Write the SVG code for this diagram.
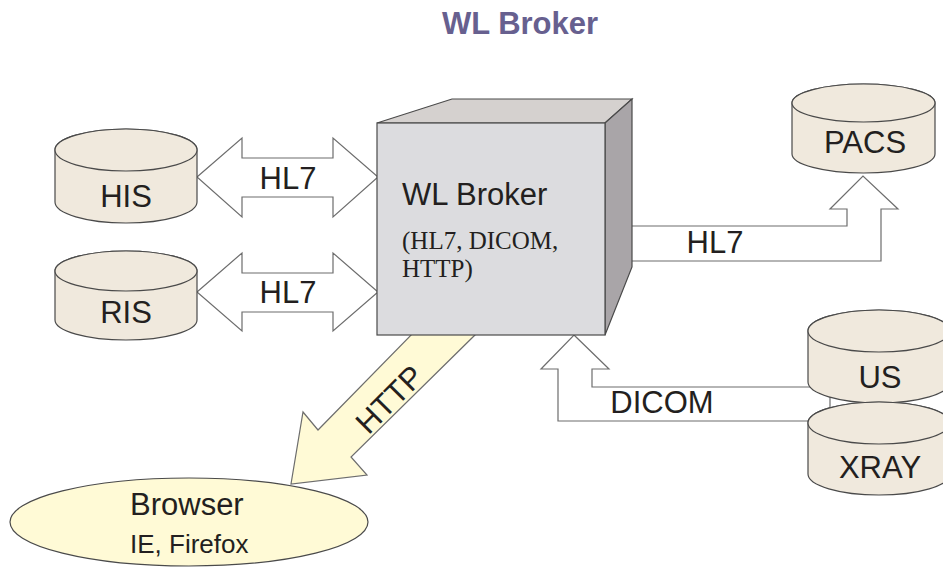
<svg xmlns="http://www.w3.org/2000/svg" width="943" height="567" viewBox="0 0 943 567">
<style>
.t{font-family:"Liberation Sans",Arial,sans-serif;fill:#231f20;font-size:31px}
.s{font-family:"Liberation Serif","Times New Roman",serif;fill:#231f20;font-size:25px}
.cyl{fill:#f0e9dd;stroke:#4a4a4a;stroke-width:1.2}
.arr{fill:#ffffff;stroke:#6d6d6d;stroke-width:1.2}
</style>
<rect width="943" height="567" fill="#ffffff"/>
<text x="520" y="34" text-anchor="middle" font-family="Liberation Sans,Arial,sans-serif" font-weight="bold" font-size="31" fill="#67608f">WL Broker</text>

<g id="connectors">
  <polygon class="arr" points="197,177 242,138 242,158 333,158 333,138 378,177 333,217 333,197 242,197 242,217"/>
  <text class="t" x="288" y="189" text-anchor="middle">HL7</text>
  <polygon class="arr" points="197,292 242,253 242,273 333,273 333,253 378,292 333,331 333,312 242,312 242,331"/>
  <text class="t" x="288" y="303" text-anchor="middle">HL7</text>
  <polygon class="arr" points="620,226 847,226 847,209 830,209 863,176 898,209 881,209 881,261 620,261"/>
  <text class="t" x="715" y="253" text-anchor="middle">HL7</text>
  <polygon class="arr" points="574,335 609,369 592,369 592,387 830,387 830,421 558,421 558,369 541,369"/>
  <text class="t" x="662" y="413" text-anchor="middle">DICOM</text>
  <polygon points="413,333 477,333 351,457 367,475 291,484 303,412 318,430" fill="#fffad6" stroke="#6d6d6d" stroke-width="1.2"/>
  <text class="t" x="0" y="0" text-anchor="middle" transform="translate(397,407) rotate(-45)">HTTP</text>
</g>

<g id="broker">
  <polygon points="377,123 452,99 632,99 605,123" fill="#d5d1cf" stroke="#4a4a4a" stroke-width="1.2"/>
  <polygon points="605,123 632,99 632,267 605,335" fill="#a9a5a8" stroke="#4a4a4a" stroke-width="1.2"/>
  <rect x="377" y="123" width="228" height="212" fill="#dcdcdf" stroke="#4a4a4a" stroke-width="1.2"/>
  <text class="t" x="402" y="205">WL Broker</text>
  <text class="s" x="402" y="249">(HL7, DICOM,</text>
  <text class="s" x="402" y="277">HTTP)</text>
</g>

<g id="his">
  <path class="cyl" d="M55,150 L55,202 A71,21 0 0 0 197,202 L197,150 A71,21 0 0 0 55,150 Z"/>
  <ellipse class="cyl" cx="126" cy="150" rx="71" ry="21"/>
  <text class="t" x="126" y="207" text-anchor="middle">HIS</text>
</g>

<g id="ris">
  <path class="cyl" d="M55,271 L55,320 A71,20 0 0 0 197,320 L197,271 A71,20 0 0 0 55,271 Z"/>
  <ellipse class="cyl" cx="126" cy="271" rx="71" ry="20"/>
  <text class="t" x="126" y="323" text-anchor="middle">RIS</text>
</g>

<g id="pacs">
  <path class="cyl" d="M792,103 L792,154 A71.5,19 0 0 0 935,154 L935,103 A71.5,19 0 0 0 792,103 Z"/>
  <ellipse class="cyl" cx="863.5" cy="103" rx="71.5" ry="19"/>
  <text class="t" x="865" y="153" text-anchor="middle">PACS</text>
</g>

<g id="us">
  <path class="cyl" d="M808,331 L808,382 A71,21 0 0 0 950,382 L950,331 A71,21 0 0 0 808,331 Z"/>
  <ellipse class="cyl" cx="879" cy="331" rx="71" ry="21"/>
  <text class="t" x="880" y="388" text-anchor="middle">US</text>
</g>

<g id="xray">
  <path class="cyl" d="M808,423 L808,474 A71,21 0 0 0 950,474 L950,423 A71,21 0 0 0 808,423 Z"/>
  <ellipse class="cyl" cx="879" cy="423" rx="71" ry="21"/>
  <text class="t" x="880" y="478" text-anchor="middle">XRAY</text>
</g>

<g id="browser">
  <ellipse cx="189" cy="522" rx="179" ry="44" fill="#fffad6" stroke="#4a4a4a" stroke-width="1.2"/>
  <text class="t" x="130" y="515">Browser</text>
  <text class="t" x="130" y="553" style="font-size:26px">IE, Firefox</text>
</g>
</svg>
